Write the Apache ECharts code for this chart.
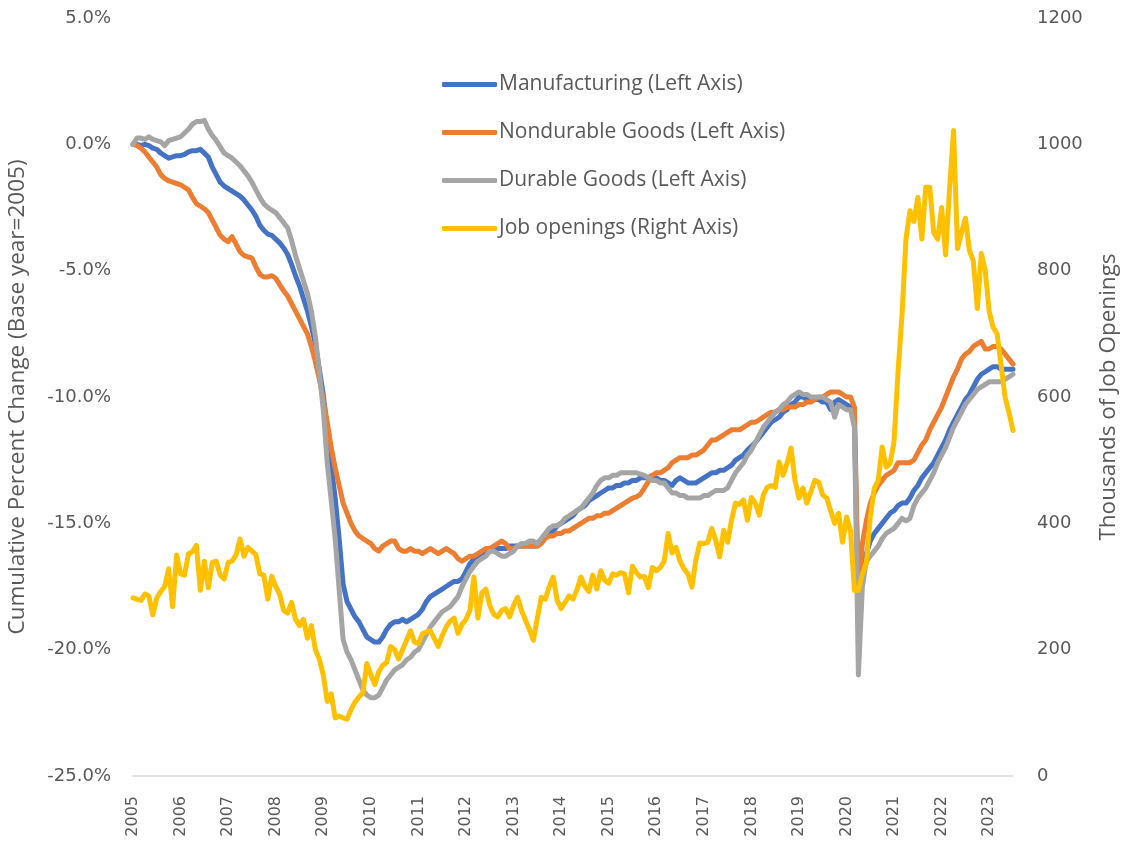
<!DOCTYPE html>
<html>
<head>
<meta charset="utf-8">
<title>Manufacturing employment and job openings</title>
<script src="https://cdn.jsdelivr.net/npm/echarts@6/dist/echarts.min.js"></script>
<style>
  html, body { margin: 0; padding: 0; background: #fff; }
  #chart { width: 1128px; height: 844px; }
</style>
</head>
<body>
<div id="chart"></div>
<script>
// monthly, Jan 2005 .. Jul 2023
const years = ['2005', '2006', '2007', '2008', '2009', '2010', '2011', '2012', '2013', '2014',
  '2015', '2016', '2017', '2018', '2019', '2020', '2021', '2022', '2023'];
const lastMonth = 7; // data stops in Jul 2023

// cumulative % change, base 2005 (left axis)
const manufacturing = [
  0.0, 0.0, -0.05, 0.0, -0.05, -0.15, -0.2, -0.35, -0.45, -0.55, -0.5, -0.45,
  -0.45, -0.4, -0.3, -0.25, -0.25, -0.2, -0.35, -0.5, -0.9, -1.2, -1.5, -1.65,
  -1.75, -1.85, -1.95, -2.05, -2.2, -2.4, -2.6, -2.85, -3.2, -3.4, -3.55, -3.6,
  -3.75, -3.9, -4.1, -4.35, -4.75, -5.2, -5.6, -6.1, -6.6, -7.2, -7.9, -8.9,
  -9.9, -11.3, -12.7, -14.0, -15.6, -17.4, -18.1, -18.4, -18.7, -18.9, -19.2, -19.5,
  -19.6, -19.7, -19.7, -19.5, -19.2, -19.0, -18.9, -18.9, -18.8, -18.9, -18.8, -18.7,
  -18.6, -18.4, -18.1, -17.9, -17.8, -17.7, -17.6, -17.5, -17.4, -17.3, -17.3, -17.2,
  -16.9, -16.6, -16.4, -16.3, -16.2, -16.1, -16.1, -16.0, -16.0, -16.0, -16.0, -15.9,
  -15.9, -15.9, -15.9, -15.9, -15.9, -15.9, -15.9, -15.7, -15.5, -15.4, -15.3, -15.1,
  -15.0, -14.9, -14.8, -14.7, -14.5, -14.4, -14.3, -14.1, -14.0, -13.9, -13.8, -13.7,
  -13.6, -13.6, -13.5, -13.5, -13.4, -13.4, -13.3, -13.3, -13.2, -13.2, -13.2, -13.1,
  -13.2, -13.3, -13.3, -13.4, -13.5, -13.3, -13.2, -13.3, -13.4, -13.4, -13.4, -13.3,
  -13.2, -13.1, -13.0, -13.0, -12.9, -12.9, -12.8, -12.7, -12.5, -12.4, -12.3, -12.1,
  -11.95, -11.8, -11.6, -11.4, -11.2, -11.0, -10.9, -10.8, -10.6, -10.5, -10.3, -10.2,
  -10.0, -10.0, -10.1, -10.1, -10.1, -10.1, -10.2, -10.2, -10.5, -10.2, -10.1, -10.2,
  -10.3, -10.4, -11.0, -18.4, -17.2, -16.2, -15.7, -15.4, -15.2, -15.0, -14.8, -14.6,
  -14.5, -14.3, -14.2, -14.2, -14.0, -13.7, -13.5, -13.2, -13.0, -12.8, -12.6, -12.3,
  -12.0, -11.7, -11.3, -11.0, -10.7, -10.4, -10.1, -9.9, -9.6, -9.3, -9.1, -9.0,
  -8.9, -8.8, -8.8, -8.9, -8.9, -8.9, -8.9
];

const nondurable = [
  0.0, -0.05, -0.15, -0.3, -0.5, -0.7, -0.9, -1.2, -1.35, -1.45, -1.5, -1.55,
  -1.6, -1.7, -1.8, -2.1, -2.35, -2.45, -2.55, -2.7, -3.0, -3.3, -3.6, -3.75,
  -3.85, -3.65, -3.95, -4.25, -4.4, -4.45, -4.5, -4.85, -5.15, -5.25, -5.25, -5.2,
  -5.3, -5.55, -5.8, -6.0, -6.3, -6.6, -6.9, -7.2, -7.5, -8.0, -8.6, -9.3,
  -10.1, -11.0, -12.0, -12.8, -13.5, -14.2, -14.6, -15.0, -15.3, -15.5, -15.6, -15.7,
  -15.8, -16.0, -16.1, -15.9, -15.8, -15.7, -15.7, -16.0, -16.1, -16.1, -16.0, -16.1,
  -16.1, -16.2, -16.1, -16.0, -16.1, -16.2, -16.1, -16.0, -16.1, -16.2, -16.4, -16.5,
  -16.4, -16.3, -16.3, -16.2, -16.1, -16.0, -16.0, -15.9, -15.8, -15.7, -15.8, -16.0,
  -16.0, -15.9, -15.9, -15.9, -15.9, -15.9, -15.9, -15.8, -15.6, -15.5, -15.5, -15.4,
  -15.4, -15.3, -15.3, -15.2, -15.1, -15.0, -14.9, -14.8, -14.8, -14.7, -14.7, -14.6,
  -14.6, -14.5, -14.4, -14.3, -14.2, -14.1, -14.0, -13.95, -13.85, -13.6, -13.35, -13.1,
  -13.0, -13.0, -12.9, -12.8, -12.6, -12.5, -12.4, -12.4, -12.4, -12.3, -12.3, -12.2,
  -12.1, -11.9, -11.7, -11.7, -11.6, -11.5, -11.4, -11.3, -11.3, -11.3, -11.2, -11.1,
  -11.0, -11.0, -10.9, -10.8, -10.7, -10.6, -10.6, -10.5, -10.5, -10.4, -10.4, -10.4,
  -10.3, -10.3, -10.2, -10.2, -10.1, -10.0, -10.0, -9.9, -9.8, -9.8, -9.8, -9.9,
  -10.0, -10.0, -10.4, -18.0, -15.8, -14.9, -14.2, -13.8, -13.5, -13.3, -13.1, -13.0,
  -12.9, -12.6, -12.6, -12.6, -12.6, -12.5, -12.2, -11.9, -11.7, -11.3, -11.0, -10.7,
  -10.4, -10.0, -9.6, -9.2, -8.9, -8.5, -8.3, -8.2, -8.0, -7.9, -7.8, -8.1,
  -8.1, -8.0, -8.0, -8.1, -8.3, -8.5, -8.7
];

const durable = [
  0.0, 0.25, 0.25, 0.2, 0.3, 0.2, 0.15, 0.1, -0.05, 0.15, 0.2, 0.25,
  0.3, 0.45, 0.6, 0.8, 0.9, 0.9, 0.95, 0.6, 0.35, 0.15, -0.1, -0.35,
  -0.45, -0.55, -0.7, -0.85, -1.05, -1.25, -1.5, -1.8, -2.1, -2.35, -2.5, -2.6,
  -2.7, -2.9, -3.1, -3.3, -3.8, -4.4, -4.9, -5.4, -5.9, -6.6, -7.6, -9.0,
  -10.5, -12.6, -14.1, -15.6, -17.6, -19.6, -20.1, -20.4, -20.8, -21.2, -21.6, -21.8,
  -21.9, -21.9, -21.8, -21.5, -21.2, -21.0, -20.8, -20.7, -20.6, -20.4, -20.3, -20.1,
  -20.0, -19.7, -19.4, -19.1, -18.9, -18.7, -18.5, -18.4, -18.3, -18.1, -17.9, -17.5,
  -17.2, -16.9, -16.7, -16.5, -16.4, -16.3, -16.1, -16.1, -16.2, -16.3, -16.3, -16.2,
  -16.1, -15.9, -15.8, -15.8, -15.7, -15.7, -15.8, -15.6, -15.4, -15.2, -15.1, -15.1,
  -15.0, -14.8, -14.7, -14.6, -14.5, -14.4, -14.2, -14.0, -13.8, -13.5, -13.3, -13.2,
  -13.2, -13.1, -13.1, -13.0, -13.0, -13.0, -13.0, -13.0, -13.05, -13.1, -13.2, -13.3,
  -13.3, -13.4, -13.4, -13.6, -13.8, -13.8, -13.9, -13.9, -14.0, -14.0, -14.0, -14.0,
  -13.9, -13.9, -13.8, -13.7, -13.7, -13.7, -13.6, -13.3, -13.0, -12.8, -12.6, -12.3,
  -12.1, -11.8, -11.5, -11.2, -11.0, -10.8, -10.6, -10.5, -10.3, -10.2, -10.0, -9.9,
  -9.8, -9.9, -9.9, -10.0, -10.0, -10.0, -10.0, -10.1, -10.2, -10.8, -10.3, -10.4,
  -10.5, -10.5, -11.2, -21.0, -17.5, -16.5, -16.3, -16.1, -15.9, -15.6, -15.4, -15.3,
  -15.2, -15.0, -14.8, -14.9, -14.8, -14.3, -14.0, -13.8, -13.6, -13.3, -13.0, -12.6,
  -12.3, -12.0, -11.6, -11.2, -10.9, -10.6, -10.3, -10.1, -9.9, -9.7, -9.6, -9.5,
  -9.4, -9.4, -9.4, -9.4, -9.3, -9.2, -9.1
];

// thousands of job openings (right axis)
const jobOpenings = [
  282, 280, 278, 288, 285, 255, 282, 292, 300, 328, 268, 350,
  320, 318, 352, 355, 365, 294, 340, 298, 338, 340, 318, 312,
  338, 340, 350, 375, 348, 362, 356, 350, 320, 318, 280, 316,
  300, 288, 262, 258, 275, 248, 238, 248, 218, 238, 200, 185,
  160, 118, 130, 92, 95, 92, 90, 105, 117, 125, 132, 178,
  160, 145, 165, 175, 180, 205, 200, 185, 200, 215, 230, 212,
  210, 225, 228, 230, 218, 205, 222, 236, 245, 250, 226, 240,
  248, 262, 315, 250, 290, 296, 270, 256, 252, 262, 265, 252,
  270, 283, 262, 247, 232, 215, 250, 283, 280, 300, 315, 278,
  265, 275, 285, 280, 295, 315, 300, 292, 318, 296, 325, 310,
  305, 320, 318, 322, 320, 290, 332, 322, 315, 316, 298, 330,
  325, 330, 340, 384, 353, 362, 340, 328, 320, 299, 342, 369,
  368, 370, 392, 373, 347, 389, 370, 405, 432, 430, 437, 405,
  441, 432, 413, 445, 457, 460, 457, 497, 476, 495, 519, 468,
  440, 456, 432, 450, 468, 465, 445, 440, 420, 400, 416, 370,
  410, 389, 294, 294, 320, 337, 410, 455, 468, 521, 489, 495,
  530, 640, 730, 850, 895, 878, 916, 850, 932, 932, 860, 850,
  900, 825, 930, 1022, 835, 860, 883, 832, 815, 740, 827, 800,
  735, 710, 700, 650, 600, 575, 547
];

const months = [];
years.forEach(y => {
  for (let m = 1; m <= 12; m++) {
    if (y === '2023' && m > lastMonth) break;
    months.push(y + '-' + String(m).padStart(2, '0'));
  }
});

const seriesNames = [
  'Manufacturing (Left Axis)',
  'Nondurable Goods (Left Axis)',
  'Durable Goods (Left Axis)',
  'Job openings (Right Axis)'
];
const seriesColors = ['#4472C4', '#ED7D31', '#A5A5A5', '#FFC000'];

const textColor = '#595959';
const tickFont = "'DejaVu Sans', Verdana, sans-serif";
const titleFont = "'Open Sans', sans-serif";

const chart = echarts.init(document.getElementById('chart'), null, { renderer: 'canvas' });

const lineSeries = (name, data, color, axis) => ({
  name: name,
  type: 'line',
  data: data,
  yAxisIndex: axis,
  showSymbol: false,
  symbol: 'none',
  lineStyle: { color: color, width: 5, cap: 'round', join: 'round' },
  itemStyle: { color: color },
  emphasis: { disabled: true }
});

chart.setOption({
  animation: false,
  grid: { left: 133, right: 115, top: 18, bottom: 68, outerBoundsMode: 'none' },
  legend: {
    orient: 'vertical',
    left: 442,
    top: 73,
    padding: 0,
    icon: 'roundRect',
    itemWidth: 55,
    itemHeight: 5,
    itemGap: 25,
    data: seriesNames,
    textStyle: { color: textColor, fontFamily: titleFont, fontSize: 21, lineHeight: 23, padding: [0, 0, 0, -3] }
  },
  xAxis: {
    type: 'category',
    data: months,
    boundaryGap: false,
    axisLine: { onZero: false, lineStyle: { color: '#D9D9D9', width: 1.5 } },
    axisTick: { show: false },
    splitLine: { show: false },
    axisLabel: {
      rotate: 90,
      margin: 20,
      color: textColor,
      fontFamily: tickFont,
      fontSize: 16,
      interval: (index) => index % 12 === 0,
      formatter: (value) => value.slice(0, 4)
    }
  },
  yAxis: [
    {
      type: 'value',
      min: -25,
      max: 5,
      interval: 5,
      name: 'Cumulative Percent Change (Base year=2005)',
      nameLocation: 'middle',
      nameGap: 104,
      nameTextStyle: { color: textColor, fontFamily: titleFont, fontSize: 22.5 },
      axisLine: { show: false },
      axisTick: { show: false },
      splitLine: { show: false },
      axisLabel: {
        margin: 22,
        color: textColor,
        fontFamily: tickFont,
        fontSize: 18,
        formatter: (v) => v.toFixed(1) + '%'
      }
    },
    {
      type: 'value',
      min: 0,
      max: 1200,
      interval: 200,
      position: 'right',
      name: 'Thousands of Job Openings',
      nameLocation: 'middle',
      nameGap: 84,
      nameRotate: 90,
      nameTextStyle: { color: textColor, fontFamily: titleFont, fontSize: 22.5 },
      axisLine: { show: false },
      axisTick: { show: false },
      splitLine: { show: false },
      axisLabel: {
        margin: 24,
        color: textColor,
        fontFamily: tickFont,
        fontSize: 18,
        formatter: (v) => String(v)
      }
    }
  ],
  series: [
    lineSeries(seriesNames[0], manufacturing, seriesColors[0], 0),
    lineSeries(seriesNames[1], nondurable, seriesColors[1], 0),
    lineSeries(seriesNames[2], durable, seriesColors[2], 0),
    lineSeries(seriesNames[3], jobOpenings, seriesColors[3], 1)
  ]
});
</script>
</body>
</html>
